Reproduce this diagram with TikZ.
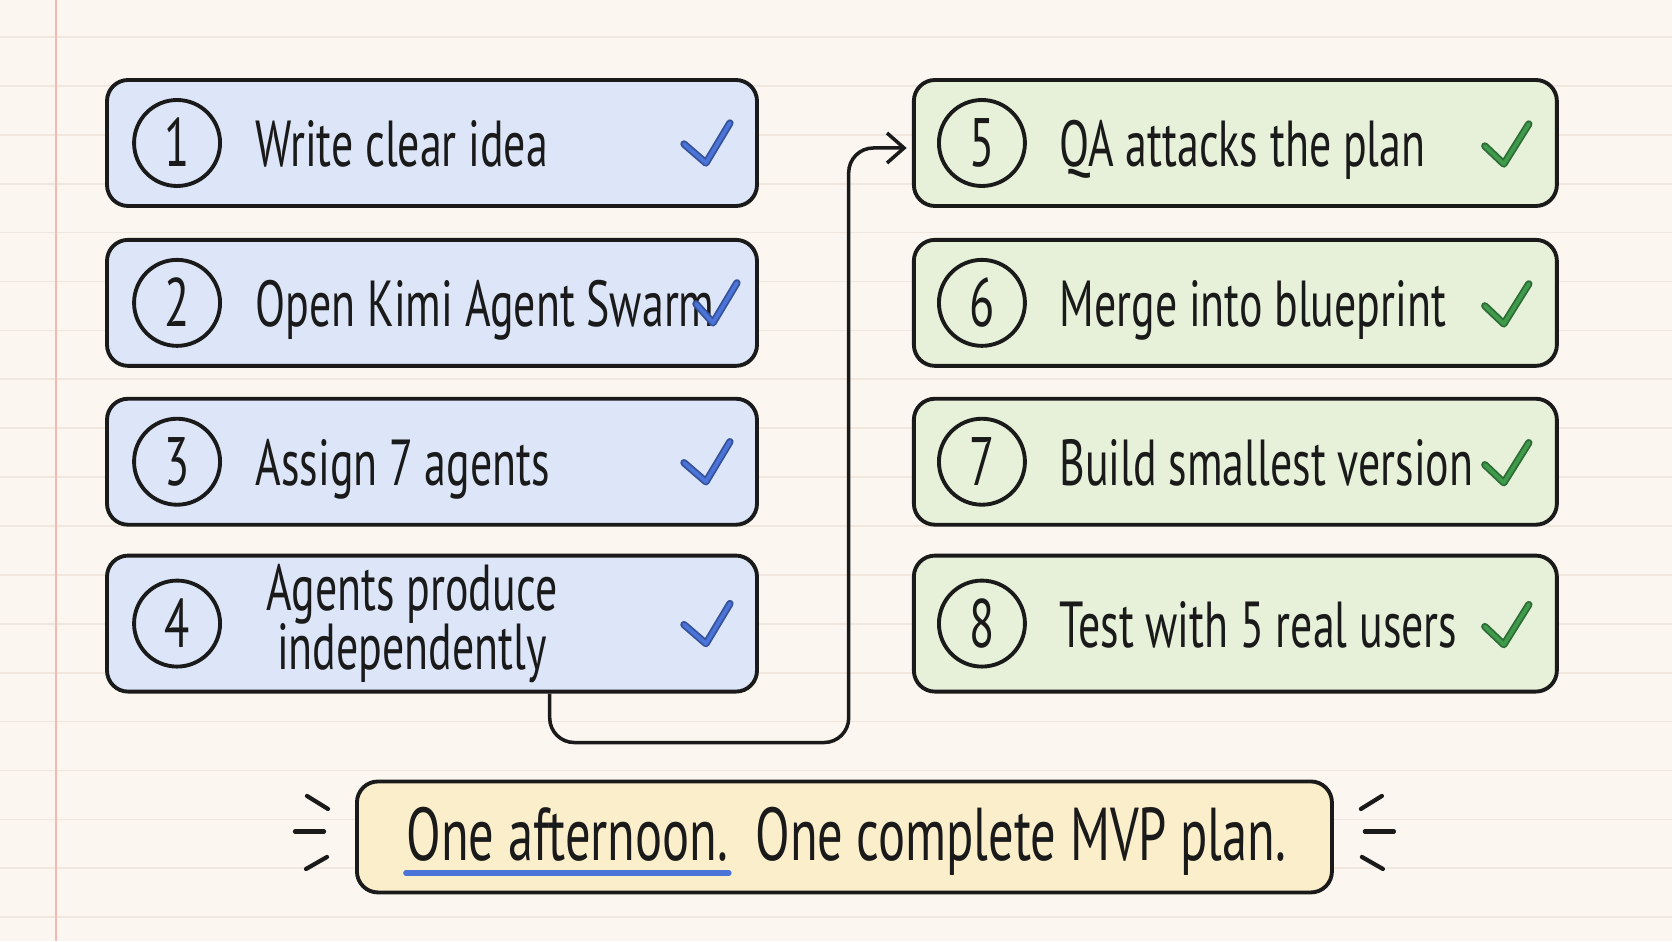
\documentclass[tikz,border=0pt]{standalone}
\usepackage{fontspec}
\newfontfamily\handfont{PT Sans}[FakeStretch=0.675]
\usepackage{xcolor}
\usetikzlibrary{arrows.meta, positioning, calc}

\definecolor{paper}{HTML}{FBF6EF}
\definecolor{ruled}{HTML}{F0E8DF}
\definecolor{margin}{HTML}{F1B9B2}
\definecolor{bluefill}{HTML}{DCE6F8}
\definecolor{greenfill}{HTML}{E7F0D8}
\definecolor{notefill}{HTML}{FBEFCB}
\definecolor{tickblue}{HTML}{4B74D9}
\definecolor{tickgreen}{HTML}{3F9A4B}
\definecolor{ink}{HTML}{1A1A1A}

\begin{document}
\begin{tikzpicture}[
    stepbox/.style={draw=ink, line width=1.1pt, rounded corners=6pt,
                minimum width=6.5cm, minimum height=1.26cm, inner sep=0pt},
    lbox/.style={stepbox, fill=bluefill},
    rbox/.style={stepbox, fill=greenfill, minimum width=6.43cm},
    num/.style={circle, draw=ink, line width=1.1pt, minimum size=0.86cm, inner sep=0pt,
                text height=0.48cm, text depth=0pt, text=ink,
                font=\handfont\fontsize{19.5}{19.5}\selectfont},
    lbl/.style={inner sep=0pt, text=ink, text height=0.48cm, text depth=0pt,
                font=\handfont\fontsize{18.5}{15}\selectfont},
    lbltwo/.style={inner sep=0pt, text=ink, align=center,
                font=\handfont\fontsize{18.5}{15}\selectfont},
    note/.style={draw=ink, line width=1.1pt, rounded corners=6pt, fill=notefill,
                minimum width=9.75cm, minimum height=1.11cm},
    sumtxt/.style={inner sep=0pt, text=ink, font=\handfont\fontsize{21.3}{21}\selectfont},
    tick/.style={line width=0.5pt, double distance=1.1pt, line cap=round, line join=round},
    arr/.style={-{Straight Barb[length=1.7mm, width=3mm]}, line width=1pt, draw=ink,
                rounded corners=7pt, shorten >=1.5pt},
    spark/.style={line width=1.2pt, line cap=round, draw=ink},
    uline/.style={line width=1.6pt, line cap=round, draw=tickblue}
]
\useasboundingbox (0,0) rectangle (16.72,9.41);
\fill[paper] (0,0) rectangle (16.72,9.41);
\foreach \k in {0,...,18}
    \draw[ruled, line width=0.5pt] (0,{9.04-0.489*\k}) -- (16.72,{9.04-0.489*\k});
\draw[margin, line width=0.6pt] (0.56,0) -- (0.56,9.41);

\node[lbox] (box1) at (4.32,7.98) {};
\node[lbox, below=0.30cm of box1] (box2) {};
\node[lbox, below=0.29cm of box2] (box3) {};
\node[lbox, below=0.27cm of box3, minimum height=1.36cm] (box4) {};
\node[rbox, right=1.53cm of box1] (box5) {};
\node[rbox, below=0.30cm of box5] (box6) {};
\node[rbox, below=0.29cm of box6] (box7) {};
\node[rbox, below=0.27cm of box7, minimum height=1.36cm] (box8) {};

\foreach \i in {1,...,4}
    \node[num] (n\i) at ([xshift=0.72cm]box\i.west) {\i};
\foreach \i in {5,...,8}
    \node[num] (n\i) at ([xshift=0.70cm]box\i.west) {\i};

\node[lbl, right=0.33cm of n1] (t1) {Write clear idea};
\node[lbl, right=0.33cm of n2] (t2) {Open Kimi Agent Swarm};
\node[lbl, right=0.33cm of n3] (t3) {Assign 7 agents};
\node[lbltwo, right=0.44cm of n4] (t4) {Agents produce\\[-1pt]independently};
\node[lbl, right=0.32cm of n5] (t5) {QA attacks the plan};
\node[lbl, right=0.32cm of n6] (t6) {Merge into blueprint};
\node[lbl, right=0.32cm of n7] (t7) {Build smallest version};
\node[lbl, right=0.32cm of n8] (t8) {Test with 5 real users};

\foreach \b in {box1,box3,box4}
    \draw[tick, draw=tickblue!70!black, double=tickblue]
        ([shift={(-0.75,-0.01)}]\b.east) -- ++(0.22,-0.19) -- ++(0.24,0.40);
\draw[tick, draw=tickblue!70!black, double=tickblue]
    ([shift={(-0.63,-0.01)}]box2.east) -- ++(0.17,-0.19) -- ++(0.24,0.40);
\foreach \b in {box5,box6,box7,box8}
    \draw[tick, draw=tickgreen!70!black, double=tickgreen]
        ([shift={(-0.74,-0.03)}]\b.east) -- ++(0.19,-0.18) -- ++(0.25,0.40);

\coordinate (tap) at ($(box4.south west)!0.68!(box4.south east)$);
\draw[arr] (tap) |- ++(2.99,-0.49) |- ([yshift=-0.05cm]box5.west);

\node[note, below=0.86cm, xshift=0.09cm] (sum) at ($(box4.south east)!0.5!(box8.south west)$) {};
\node[sumtxt, anchor=base west] (sum1) at ([shift={(0.51,-0.24)}]sum.west) {One afternoon.};
\node[sumtxt, anchor=base west] (sum2) at ([xshift=0.26cm]sum1.base east) {One complete MVP plan.};
\draw[uline] ([yshift=-0.12cm]sum1.base west) -- ([yshift=-0.12cm]sum1.base east);

\foreach \s/\a in {-1/west, 1/east} {
    \draw[spark] ([shift={(\s*0.27,0.28)}]sum.\a) -- ++(\s*0.21,0.13);
    \draw[spark] ([shift={(\s*0.31,0.055)}]sum.\a) -- ++(\s*0.29,0);
    \draw[spark] ([shift={(\s*0.28,-0.2)}]sum.\a) -- ++(\s*0.21,-0.12);
}
\end{tikzpicture}
\end{document}
